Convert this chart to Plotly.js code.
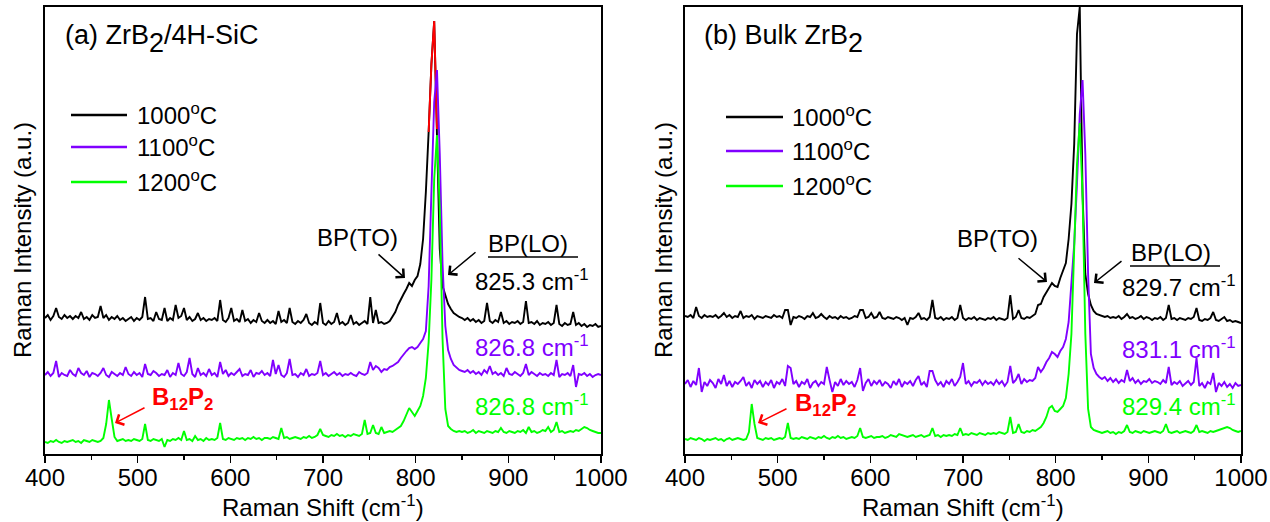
<!DOCTYPE html>
<html><head><meta charset="utf-8">
<script src="https://cdn.plot.ly/plotly-3.0.1.min.js"></script>
<style>html,body{margin:0;padding:0;background:#fff}#chart{width:1270px;height:522px}</style>
</head><body><div id="chart"></div>
<script>
// Raman shift axis (cm^-1)
const wavenumber=[
400,403,406,409,412,415,418,421,424,427,
430,433,436,439,442,445,448,451,454,457,
460,463,466,469,472,475,478,481,484,487,
490,493,496,499,502,505,508,511,514,517,
520,523,526,529,532,535,538,541,544,547,
550,553,556,559,562,565,568,571,574,577,
580,583,586,589,592,595,598,601,604,607,
610,613,616,619,622,625,628,631,634,637,
640,643,646,649,652,655,658,661,664,667,
670,673,676,679,682,685,688,691,694,697,
700,703,706,709,712,715,718,721,724,727,
730,733,736,739,742,745,748,751,754,757,
760,763,766,769,772,775,778,781,784,787,
790,793,796,799,802,805,808,811,814,817,
820,823,826,829,832,835,838,841,844,847,
850,853,856,859,862,865,868,871,874,877,
880,883,886,889,892,895,898,901,904,907,
910,913,916,919,922,925,928,931,934,937,
940,943,946,949,952,955,958,961,964,967,
970,973,976,979,982,985,988,991,994,997,
1000];

// (a) ZrB2/4H-SiC, stacked intensities (a.u.)
const a1000=[
136,139,134,138,146,137,135,139,136,138,
135,138,136,142,135,137,134,139,136,137,
148,136,139,134,137,135,138,134,136,133,
135,137,133,136,134,137,157,135,136,133,
142,135,134,146,133,136,134,149,136,138,
146,134,137,133,135,141,134,136,133,135,
134,136,133,154,134,132,136,146,133,135,
132,144,133,135,131,134,132,141,133,131,
134,131,133,130,143,132,134,131,146,132,
130,133,131,134,140,131,129,132,130,151,
131,129,133,130,132,141,130,132,129,131,
139,130,132,129,131,133,130,157,131,144,
131,132,130,131,133,137,142,149,155,160,
165,171,168,174,178,190,215,262,322,390,
433,325,205,168,158,150,145,141,139,137,
136,134,136,133,135,132,134,131,133,151,
133,131,134,132,142,131,133,130,132,131,
133,130,132,153,131,132,130,133,129,131,
130,132,129,131,149,130,128,131,129,130,
142,129,131,128,130,127,129,128,130,127,
128];
const a1100=[
79,82,78,81,93,77,81,79,78,84,
80,78,86,81,79,83,77,81,80,78,
81,86,79,77,82,80,78,81,79,87,
80,78,82,79,81,77,90,80,79,83,
81,78,80,79,84,77,81,79,91,80,
78,82,96,80,77,86,79,81,78,85,
79,81,77,92,80,84,78,81,79,82,
85,78,80,79,84,77,81,80,83,79,
81,78,94,80,89,79,77,81,95,79,
80,77,81,79,85,78,80,79,81,93,
79,81,78,80,82,79,81,78,80,79,
81,79,78,82,80,79,81,92,84,88,
86,82,85,84,87,88,90,92,96,100,
103,106,107,105,107,111,115,123,168,262,
352,384,300,190,128,104,95,89,86,84,
83,82,84,81,83,80,82,79,84,81,
88,80,82,79,81,78,86,80,79,82,
80,78,81,90,79,82,80,78,81,79,
80,78,81,79,94,77,80,79,81,78,
89,67,80,79,81,78,80,77,79,80,
79];
const a1200=[
12,11,13,12,14,12,11,13,12,13,
14,12,13,11,14,13,12,14,13,12,
13,16,30,54,35,17,13,14,15,13,
14,13,15,14,13,15,30,14,13,15,
14,13,15,7,14,13,15,14,16,14,
23,14,15,13,18,14,15,13,16,14,
15,14,16,31,15,14,16,15,14,16,
15,16,14,16,15,17,15,16,14,16,
16,15,17,16,15,26,16,17,15,16,
17,16,15,17,16,18,16,17,19,25,
19,18,17,19,18,20,18,19,17,19,
18,20,19,18,20,34,20,21,29,21,
20,27,21,22,23,22,24,26,28,33,
40,46,42,38,43,48,58,76,112,175,
275,319,245,115,45,28,25,23,22,23,
22,23,21,22,24,21,23,22,21,23,
22,21,23,22,26,22,21,23,22,21,
23,22,24,21,27,22,23,21,22,24,
23,27,22,24,32,22,23,21,22,23,
22,24,23,25,27,26,24,23,22,21,
21];

// (b) Bulk ZrB2
const b1000=[
138,137,139,136,147,138,136,139,137,138,
137,139,136,138,141,137,139,136,138,137,
143,136,138,137,139,135,138,137,136,138,
137,136,139,137,138,136,144,144,129,137,
136,138,137,135,138,137,141,136,137,140,
137,135,138,136,137,135,138,136,137,135,
136,138,137,144,144,136,137,141,136,137,
142,136,135,137,136,135,137,136,134,136,
129,136,135,137,141,135,136,134,137,154,
136,135,137,134,136,135,137,134,136,149,
136,134,136,135,137,134,136,135,134,136,
135,137,134,136,135,134,136,159,135,137,
144,136,135,137,136,138,140,149,150,157,
162,166,171,168,167,176,184,191,215,250,
310,420,447,260,180,160,149,143,140,139,
138,137,138,136,137,136,138,135,137,140,
136,137,135,136,138,135,137,136,134,136,
135,137,134,136,149,135,136,134,136,135,
134,136,135,137,146,134,133,135,134,136,
142,134,133,135,137,133,134,132,133,132,
131];
const b1100=[
70,74,67,73,69,86,62,72,68,74,
71,66,75,70,79,68,73,67,72,70,
73,77,68,72,66,74,70,73,67,72,
69,74,66,72,70,75,68,88,86,70,
73,67,72,70,75,66,71,73,68,72,
70,87,74,62,72,68,75,69,73,70,
72,67,74,86,63,71,75,68,73,70,
74,68,72,70,66,73,69,75,67,72,
70,73,68,74,78,69,72,67,83,83,
74,69,72,67,73,70,75,68,72,77,
91,70,73,68,72,71,74,69,73,70,
72,69,74,70,73,68,72,88,71,74,
80,70,75,72,74,73,76,87,82,86,
92,96,102,100,97,103,107,115,132,175,
210,270,340,374,300,180,100,86,80,77,
75,77,73,76,72,75,71,74,72,84,
73,76,71,74,70,73,72,75,71,73,
72,70,74,71,87,69,72,70,73,68,
71,73,69,72,96,68,71,66,72,70,
81,62,71,68,72,67,70,66,71,68,
69];
const b1200=[
15,14,16,15,14,16,15,13,15,14,
15,16,14,15,13,15,16,14,15,16,
15,14,15,22,50,30,16,15,14,16,
15,16,14,15,16,15,17,31,16,15,
16,15,17,16,15,17,16,15,17,16,
18,16,15,17,16,18,16,17,15,16,
17,16,18,26,17,16,17,18,16,17,
17,18,16,17,19,18,17,20,19,18,
17,18,19,17,18,19,17,18,19,26,
18,19,17,19,18,19,18,20,19,26,
19,20,19,21,20,19,21,20,19,21,
20,21,20,22,21,20,22,37,21,22,
30,22,21,23,22,24,23,25,27,31,
37,46,48,43,42,45,48,56,80,120,
200,290,331,260,120,45,27,24,23,22,
21,22,23,21,22,20,22,21,23,29,
22,21,23,22,21,23,22,21,22,23,
22,21,23,30,22,21,22,23,21,22,
23,22,21,23,29,22,23,22,21,23,
22,23,24,25,26,27,26,24,23,22,
23];

const seriesNames=['1000<sup>o</sup>C','1100<sup>o</sup>C','1200<sup>o</sup>C'];
const seriesColors=['#000000','#8000ff','#00ff00'];
const accentRed='#ff0000';
const peakLabelsA=['825.3 cm<sup>-1</sup>','826.8 cm<sup>-1</sup>','826.8 cm<sup>-1</sup>'];
const peakLabelsB=['829.7 cm<sup>-1</sup>','831.1 cm<sup>-1</sup>','829.4 cm<sup>-1</sup>'];
const xTickVals=[400,500,600,700,800,900,1000];
const redThreshold=320;

const W=1270,H=522;
const FONT='Liberation Sans, Arial, sans-serif';
const traces=[];
function line(x,y,color,xa,ya,name){
  return {x,y,type:'scatter',mode:'lines',name,line:{color,width:1.9},showlegend:false,xaxis:xa,yaxis:ya,hoverinfo:'skip'};
}
const setB=[b1000,b1100,b1200];
// panel a
traces.push(line(wavenumber,a1000,seriesColors[0],'x','y',seriesNames[0]));
const topX=[],topY=[];
a1000.forEach((v,i)=>{if(v>=redThreshold){topX.push(wavenumber[i]);topY.push(v);}});
traces.push(line(topX,topY,accentRed,'x','y','peak'));
traces.push(line(wavenumber,a1100,seriesColors[1],'x','y',seriesNames[1]));
traces.push(line(wavenumber,a1200,seriesColors[2],'x','y',seriesNames[2]));
// panel b
setB.forEach((s,i)=>traces.push(line(wavenumber,s,seriesColors[i],'x2','y2',seriesNames[i])));

function xaxis(dom,anchor){
  return {domain:dom,range:[400,1000],tickvals:xTickVals,ticks:'outside',ticklen:7,tickwidth:1.5,tickcolor:'#000',
    ticklabelstandoff:-6,
    showline:true,linecolor:'#000',linewidth:2,mirror:true,showgrid:false,zeroline:false,anchor,
    tickfont:{family:FONT,size:24,color:'#000'},
    minor:{dtick:50,tick0:400,ticks:'outside',ticklen:4,tickwidth:1.5,tickcolor:'#000',showgrid:false},fixedrange:true};
}
function yaxis(anchor){
  return {domain:[1-454/H,1-7/H],range:[0,447],showticklabels:false,ticks:'',showline:true,linecolor:'#000',linewidth:2,
    mirror:true,showgrid:false,zeroline:false,anchor,fixedrange:true};
}
function txt(x,y,text,opt){
  return Object.assign({xref:'paper',yref:'paper',x:x/W,y:1-y/H,text,showarrow:false,xanchor:'left',yanchor:'middle',
    font:{family:FONT,size:24,color:'#000'}},opt||{});
}
function arrow(hx,hy,tx,ty,color){
  return {xref:'paper',yref:'paper',x:hx/W,y:1-hy/H,ax:tx-hx,ay:ty-hy,text:'',showarrow:true,arrowhead:4,
    arrowsize:1.5,arrowwidth:1.5,arrowcolor:color,standoff:0};
}
function seg(x0,y0,x1,y1,color,w){
  return {type:'line',xref:'paper',yref:'paper',x0:x0/W,x1:x1/W,y0:1-y0/H,y1:1-y1/H,line:{color,width:w}};
}
const big={family:FONT,size:27,color:'#000'};
const annotations=[
  txt(63,35,'(a) ZrB',{font:big}),
  txt(147,43,'2',{font:big}),
  txt(162,35,'/4H-SiC',{font:big}),
  txt(702,35,'(b) Bulk ZrB',{font:big}),
  txt(846,43,'2',{font:big}),
  txt(323,506,'Raman Shift (cm<sup>-1</sup>)',{xanchor:'center'}),
  txt(963,506,'Raman Shift (cm<sup>-1</sup>)',{xanchor:'center'}),
  txt(22,240,'Raman Intensity (a.u.)',{xanchor:'center',textangle:-90}),
  txt(663,240,'Raman Intensity (a.u.)',{xanchor:'center',textangle:-90}),
  txt(357,237,'BP(TO)',{xanchor:'center'}),
  txt(997,238,'BP(TO)',{xanchor:'center'}),
  txt(528,244,'BP(LO)',{xanchor:'center'}),
  txt(1171,252,'BP(LO)',{xanchor:'center'}),
  txt(150,398,'<b>B<sub>12</sub>P<sub>2</sub></b>',{font:{family:FONT,size:24,color:accentRed}}),
  txt(793,404,'<b>B<sub>12</sub>P<sub>2</sub></b>',{font:{family:FONT,size:24,color:accentRed}}),
  arrow(405,278,377,253,'#000'),
  arrow(448,275,477,251,'#000'),
  arrow(115,423,146,407,accentRed),
  arrow(1047,282,1017,257,'#000'),
  arrow(1094,283,1123,260,'#000'),
  arrow(758,423,788,408,accentRed)
];
const legA=[115,147,182], legB=[117,151,186];
const peakYA=[280,346,405], peakYB=[286,348,405];
const shapes=[seg(488,257,578,257,'#000',1.5),seg(1130,266,1220,266,'#000',1.5)];
seriesNames.forEach((n,i)=>{
  shapes.push(seg(71,legA[i],127,legA[i],seriesColors[i],2.5));
  shapes.push(seg(726,legB[i],783,legB[i],seriesColors[i],2.5));
  annotations.push(txt(135,legA[i]-1,n));
  annotations.push(txt(790,legB[i]-1,n));
  annotations.push(txt(473,peakYA[i],peakLabelsA[i],{font:{family:FONT,size:24,color:seriesColors[i]}}));
  annotations.push(txt(1120,peakYB[i],peakLabelsB[i],{font:{family:FONT,size:24,color:seriesColors[i]}}));
});
const layout={width:W,height:H,margin:{l:0,r:0,t:0,b:0},paper_bgcolor:'#fff',plot_bgcolor:'#fff',
  xaxis:xaxis([45/W,601/W],'y'),yaxis:yaxis('x'),
  xaxis2:xaxis([685/W,1241/W],'y2'),yaxis2:yaxis('x2'),
  annotations,shapes,showlegend:false,font:{family:FONT,size:24,color:'#000'}};
Plotly.newPlot('chart',traces,layout,{displayModeBar:false,staticPlot:true});
</script></body></html>
